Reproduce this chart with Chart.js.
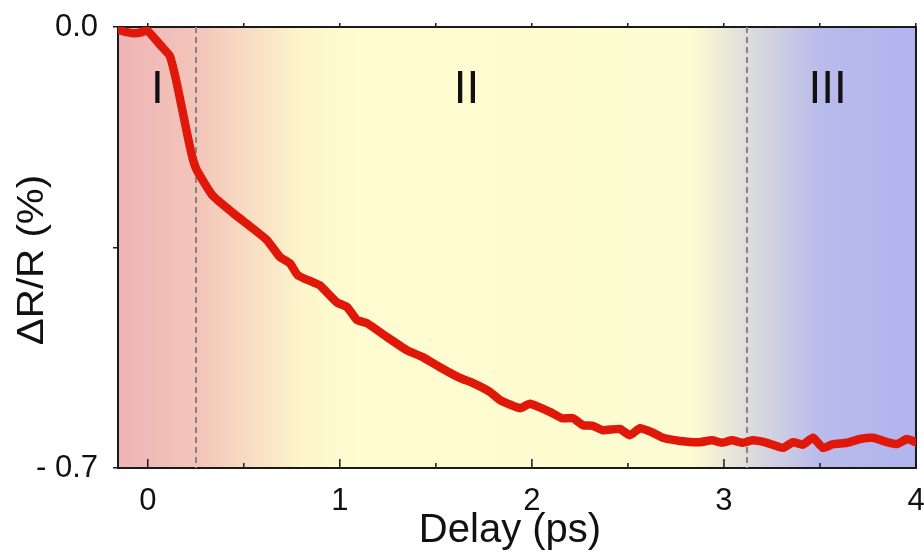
<!DOCTYPE html>
<html>
<head>
<meta charset="utf-8">
<script src="https://cdn.jsdelivr.net/npm/chart.js@4.4.1/dist/chart.umd.min.js"></script>
<style>
  html, body { margin: 0; padding: 0; background: #ffffff; }
  #wrap { width: 924px; height: 555px; }
</style>
</head>
<body>
<div id="wrap"><canvas id="c" width="924" height="555"></canvas></div>
<script>
// Transient reflectivity trace: delay (ps) vs ΔR/R (%)
const delay = [
  -0.155, -0.146, -0.110, -0.068, -0.030, -0.005, 0.078, 0.115, 0.151, 0.198,
  0.229, 0.255, 0.339, 0.443, 0.531, 0.620, 0.688, 0.740, 0.781, 0.859,
  0.896, 0.984, 1.036, 1.089, 1.141, 1.245, 1.349, 1.432, 1.521, 1.625,
  1.677, 1.781, 1.833, 1.938, 1.990, 2.094, 2.156, 2.214, 2.266, 2.318,
  2.370, 2.458, 2.510, 2.563, 2.630, 2.682, 2.771, 2.875, 2.938, 2.990,
  3.042, 3.099, 3.151, 3.224, 3.307, 3.359, 3.411, 3.464, 3.516, 3.568,
  3.641, 3.708, 3.776, 3.849, 3.901, 3.953, 4.000
];
const dR = [
  -0.003, -0.005, -0.008, -0.010, -0.008, -0.005, -0.033, -0.046, -0.089, -0.159,
  -0.203, -0.227, -0.268, -0.295, -0.316, -0.338, -0.365, -0.375, -0.394, -0.405,
  -0.410, -0.437, -0.444, -0.465, -0.470, -0.492, -0.513, -0.524, -0.540, -0.557,
  -0.563, -0.579, -0.592, -0.605, -0.598, -0.611, -0.621, -0.621, -0.632, -0.633,
  -0.640, -0.638, -0.648, -0.637, -0.644, -0.652, -0.657, -0.659, -0.656, -0.660,
  -0.656, -0.660, -0.656, -0.660, -0.668, -0.659, -0.663, -0.652, -0.668, -0.662,
  -0.660, -0.654, -0.652, -0.659, -0.662, -0.654, -0.659
];

// Axis ticks
const xTicks = [0, 0.5, 1, 1.5, 2, 2.5, 3, 3.5, 4];
const yTicks = [-0.7, -0.35, 0];
const yTickLabels = { '-0.7': '- 0.7', '0': '0.0' };

// Regime boundaries (ps) and regime names
const boundaries = [0.25, 3.12];
const regionNames = ['I', 'II', 'III'];
const regionX = [0.05, 1.66, 3.54];
const regionY = -0.10;

const FONT = '"Liberation Sans", Arial, Helvetica, sans-serif';
const INK = '#1a1a1a';

// Keep the plot box fixed: no extra room for overhanging edge labels
const noPad = s => { s.paddingLeft = 0; s.paddingRight = 0; s.paddingTop = 0; s.paddingBottom = 0; };

// Background wash: red → yellow → blue across the delay range
const backdrop = {
  id: 'backdrop',
  beforeDraw(chart) {
    const { ctx, chartArea: a } = chart;
    const g = ctx.createLinearGradient(a.left, 0, a.right, 0);
    g.addColorStop(0.00, '#eeb4b7');
    g.addColorStop(0.10, '#f3c5b9');
    g.addColorStop(0.23, '#fdf5cc');
    g.addColorStop(0.30, '#fffcd1');
    g.addColorStop(0.72, '#fdfbd1');
    g.addColorStop(0.79, '#dddcdc');
    g.addColorStop(0.88, '#b9bbeb');
    g.addColorStop(1.00, '#b1b4ee');
    ctx.save();
    ctx.fillStyle = g;
    ctx.fillRect(a.left, a.top, a.right - a.left, a.bottom - a.top);
    ctx.restore();
  }
};

// Dashed regime boundaries, regime names, inward bottom ticks and axis titles
const regions = {
  id: 'regions',
  beforeDatasetsDraw(chart) {
    const { ctx, chartArea: a, scales } = chart;
    const xs = scales.x, ys = scales.y;
    ctx.save();
    ctx.strokeStyle = '#858585';
    ctx.lineWidth = 2;
    ctx.setLineDash([6, 4]);
    boundaries.forEach(b => {
      const px = Math.round(xs.getPixelForValue(b));
      ctx.beginPath();
      ctx.moveTo(px, a.top);
      ctx.lineTo(px, a.bottom);
      ctx.stroke();
    });
    ctx.setLineDash([]);

    ctx.fillStyle = '#111';
    ctx.font = '46px ' + FONT;
    ctx.textAlign = 'center';
    ctx.textBaseline = 'middle';
    regionNames.forEach((n, i) => {
      ctx.fillText(n, xs.getPixelForValue(regionX[i]), ys.getPixelForValue(regionY));
    });

    ctx.strokeStyle = INK;
    ctx.lineWidth = 1.5;
    xTicks.forEach(v => {
      const px = xs.getPixelForValue(v);
      const len = Number.isInteger(v) ? 9 : 5;
      ctx.beginPath();
      ctx.moveTo(px, a.bottom);
      ctx.lineTo(px, a.bottom - len);
      ctx.stroke();
    });
    ctx.restore();
  },
  afterDraw(chart) {
    const { ctx } = chart;
    ctx.save();
    ctx.fillStyle = '#111';
    ctx.textAlign = 'center';
    ctx.textBaseline = 'alphabetic';
    ctx.font = '40px ' + FONT;
    ctx.fillText('Delay (ps)', 510, 542);
    ctx.translate(43, 260);
    ctx.rotate(-Math.PI / 2);
    ctx.scale(1.12, 1);
    ctx.font = '36px ' + FONT;
    ctx.fillText('ΔR/R (%)', 0, 0);
    ctx.restore();
  }
};

const points = delay.map((x, i) => ({ x, y: dR[i] }));

new Chart(document.getElementById('c'), {
  type: 'line',
  data: {
    datasets: [{
      data: points,
      borderColor: '#e0180a',
      borderWidth: 8.5,
      pointRadius: 0,
      tension: 0.15,
      borderJoinStyle: 'round',
      borderCapStyle: 'round',
      xAxisID: 'x',
      yAxisID: 'y'
    }]
  },
  options: {
    responsive: false,
    devicePixelRatio: 1,
    animation: false,
    layout: { padding: 0 },
    plugins: { legend: { display: false }, tooltip: { enabled: false } },
    scales: {
      x: {
        type: 'linear', position: 'bottom', min: -0.155, max: 4,
        afterBuildTicks: s => { s.ticks = xTicks.map(v => ({ value: v })); },
        afterFit: s => { s.height = 87; noPad(s); },
        grid: { display: false },
        border: { display: true, color: INK, width: 2 },
        ticks: {
          font: { family: FONT, size: 31 }, color: '#111', padding: 7,
          maxRotation: 0, autoSkip: false,
          callback: v => Number.isInteger(v) ? String(v) : ''
        }
      },
      x2: {
        type: 'linear', position: 'top', min: -0.155, max: 4,
        afterBuildTicks: s => { s.ticks = xTicks.map(v => ({ value: v })); },
        afterFit: s => { s.height = 27; noPad(s); },
        grid: { display: true, drawOnChartArea: false, drawTicks: true, tickLength: 4, color: INK, lineWidth: 1.5 },
        border: { display: true, color: INK, width: 2 },
        ticks: { display: false }
      },
      y: {
        type: 'linear', position: 'left', min: -0.7, max: 0,
        afterBuildTicks: s => { s.ticks = yTicks.map(v => ({ value: v })); },
        afterFit: s => { s.width = 118; noPad(s); },
        grid: { display: true, drawOnChartArea: false, drawTicks: true, tickLength: 5, color: INK, lineWidth: 1.5 },
        border: { display: true, color: INK, width: 2 },
        ticks: {
          font: { family: FONT, size: 31 }, color: '#111', padding: 15,
          autoSkip: false,
          callback: v => yTickLabels[String(Math.round(v * 100) / 100)] || ''
        }
      },
      y2: {
        type: 'linear', position: 'right', min: -0.7, max: 0,
        afterFit: s => { s.width = 8; noPad(s); },
        grid: { display: false },
        border: { display: true, color: INK, width: 2 },
        ticks: { display: false }
      }
    }
  },
  plugins: [backdrop, regions]
});
</script>
</body>
</html>
